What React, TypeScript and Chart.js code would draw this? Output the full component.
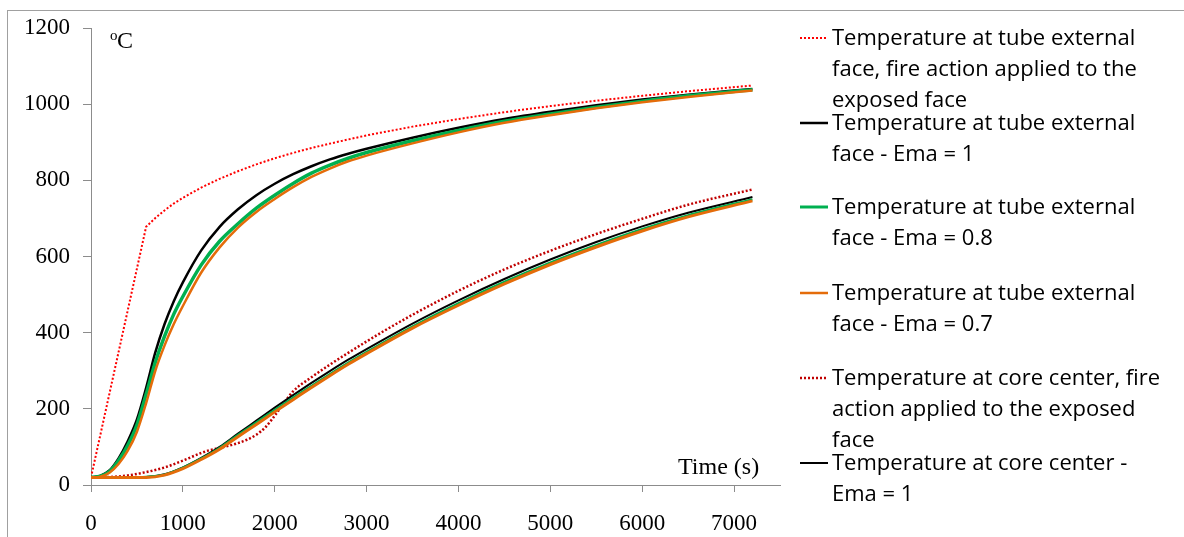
import { useEffect, useRef } from 'react';
import { Chart, registerables } from 'chart.js';

Chart.register(...registerables);

// ---- Data (time in s, temperature in °C) ----
const fireTubeTimes = [0, 600, 700, 800, 900, 1000, 1200, 1400, 1600, 1800, 2000, 2200, 2400, 2700, 3000, 3500, 4000, 4500, 5000, 5500, 6000, 6500, 7200];
const fireTube = [20, 678, 701, 721, 739, 754, 781, 804, 824, 842, 858, 872, 885, 902, 918, 941, 961, 979, 995, 1009, 1022, 1034, 1049];

const tubeTimes = [0, 100, 200, 300, 400, 500, 600, 700, 800, 900, 1000, 1200, 1400, 1600, 1800, 2000, 2200, 2400, 2600, 2800, 3000, 3500, 4000, 4500, 5000, 5500, 6000, 6500, 7200];
const tubeEma1 = [20, 24, 38, 70, 115, 172, 255, 348, 422, 482, 532, 616, 678, 724, 761, 791, 816, 837, 855, 870, 883, 912, 938, 961, 980, 997, 1012, 1025, 1040];
const tubeEma08 = [20, 23, 35, 64, 104, 158, 238, 322, 390, 448, 495, 578, 640, 686, 727, 761, 792, 819, 840, 858, 873, 904, 931, 955, 974, 992, 1008, 1022, 1038];
const tubeEma07 = [20, 22, 32, 55, 90, 140, 215, 300, 366, 422, 470, 558, 624, 676, 717, 751, 782, 809, 831, 850, 865, 897, 926, 951, 971, 989, 1005, 1019, 1036];

const fireCoreTimes = [0, 200, 400, 600, 800, 1000, 1200, 1300, 1400, 1500, 1600, 1700, 1800, 1900, 2000, 2100, 2200, 2400, 2600, 2800, 3000, 3200, 3500, 4000, 4500, 5000, 5500, 6000, 6500, 7200];
const fireCore = [20, 21, 25, 34, 46, 64, 84, 92, 97, 103, 110, 119, 132, 152, 182, 215, 246, 283, 316, 347, 377, 406, 447, 510, 566, 615, 659, 699, 736, 776];

const coreTimes = [0, 200, 400, 600, 800, 1000, 1200, 1400, 1600, 1800, 2000, 2200, 2400, 2600, 2800, 3000, 3500, 4000, 4500, 5000, 5500, 6000, 6500, 7200];
const coreEma1 = [20, 20, 20, 21, 28, 46, 71, 100, 135, 169, 203, 236, 268, 299, 329, 357, 424, 485, 541, 592, 638, 679, 715, 756];
const coreEma08 = [20, 20, 20, 21, 27, 45, 69, 97, 131, 164, 197, 229, 260, 291, 321, 349, 416, 477, 533, 584, 630, 672, 708, 750];
const coreEma07 = [20, 20, 20, 20, 26, 43, 67, 94, 127, 159, 192, 224, 256, 287, 317, 345, 412, 472, 528, 579, 625, 667, 704, 746];

const yTicks = [0, 200, 400, 600, 800, 1000, 1200];
const xTicks = [0, 1000, 2000, 3000, 4000, 5000, 6000, 7000];

const seriesLabels = [
  'Temperature at tube external\nface, fire action applied to the\nexposed face',
  'Temperature at tube external\nface - Ema = 1',
  'Temperature at tube external\nface - Ema = 0.8',
  'Temperature at tube external\nface - Ema = 0.7',
  'Temperature at core center, fire\naction applied to the exposed\nface',
  'Temperature at core center -\nEma = 1',
  'Temperature at core center -\nEma = 0.8',
  'Temperature at core center -\nEma = 0.7',
];

const RED = '#FF0000';
const DARKRED = '#C00000';
const BLACK = '#000000';
const GREEN = '#00B050';
const ORANGE = '#E46C0A';

const styles = [
  { color: RED, width: 2, dash: [2, 2] },
  { color: BLACK, width: 2.5, dash: [] },
  { color: GREEN, width: 3.5, dash: [] },
  { color: ORANGE, width: 2.5, dash: [] },
  { color: DARKRED, width: 2.5, dash: [2, 2] },
  { color: BLACK, width: 2, dash: [] },
  { color: GREEN, width: 2.5, dash: [] },
  { color: ORANGE, width: 3, dash: [] },
];

const legendCenters = [38, 123, 207, 293, 378, 463];

function toPts(xs: number[], ys: number[]) {
  return xs.map((x, i) => ({ x, y: ys[i] }));
}

const titlesPlugin = {
  id: 'axisTitles',
  afterDraw(chart: any) {
    const { ctx, chartArea } = chart;
    ctx.save();
    ctx.fillStyle = '#000';
    ctx.textBaseline = 'alphabetic';
    ctx.textAlign = 'left';
    ctx.font = '15px "Liberation Serif"';
    ctx.fillText('o', chartArea.left + 19, chartArea.top + 12);
    ctx.font = '24px "Liberation Serif"';
    ctx.fillText('C', chartArea.left + 26, chartArea.top + 20);
    ctx.fillText('Time (s)', chartArea.right - 102, chartArea.bottom - 11);
    ctx.restore();
  },
};

function App() {
  const ref = useRef<HTMLCanvasElement | null>(null);

  useEffect(() => {
    if (!ref.current) return;
    const sets = [
      toPts(fireTubeTimes, fireTube),
      toPts(tubeTimes, tubeEma1),
      toPts(tubeTimes, tubeEma08),
      toPts(tubeTimes, tubeEma07),
      toPts(fireCoreTimes, fireCore),
      toPts(coreTimes, coreEma1),
      toPts(coreTimes, coreEma08),
      toPts(coreTimes, coreEma07),
    ];
    const datasets = sets.map((data, i) => ({
      label: seriesLabels[i],
      data,
      borderColor: styles[i].color,
      backgroundColor: styles[i].color,
      borderWidth: styles[i].width,
      borderDash: styles[i].dash,
      borderCapStyle: 'butt' as const,
      pointRadius: 0,
      fill: false,
      tension: i === 0 ? 0 : 0.4,
      cubicInterpolationMode: i === 0 ? ('default' as const) : ('monotone' as const),
      order: sets.length - i,
    }));
    const axisColor = '#8C8C8C';
    const tickFont = { family: '"Liberation Serif"', size: 23 };
    const fmt = (v: any) => String(v);
    const chart = new Chart(ref.current, {
      type: 'line',
      data: { datasets },
      plugins: [titlesPlugin],
      options: {
        animation: false,
        responsive: false,
        layout: { padding: { left: 0, top: 28, right: 404, bottom: 0 } },
        plugins: { legend: { display: false }, tooltip: { enabled: false } },
        scales: {
          x: {
            type: 'linear',
            min: 0,
            max: 7500,
            afterFit: (s: any) => { s.height = 52; },
            afterBuildTicks: (s: any) => { s.ticks = xTicks.map((v) => ({ value: v })); },
            ticks: { stepSize: 1000, color: '#000', font: tickFont, padding: 18, maxRotation: 0, autoSkip: false, callback: fmt },
            grid: { drawOnChartArea: false, drawTicks: true, tickLength: 7, color: axisColor },
            border: { display: true, color: axisColor, width: 1 },
          },
          y: {
            type: 'linear',
            min: 0,
            max: 1200,
            afterFit: (s: any) => { s.width = 91; },
            afterBuildTicks: (s: any) => { s.ticks = yTicks.map((v) => ({ value: v })); },
            ticks: { stepSize: 200, color: '#000', font: tickFont, padding: 13, callback: fmt },
            grid: { drawOnChartArea: false, drawTicks: true, tickLength: 8, color: axisColor },
            border: { display: true, color: axisColor, width: 1 },
          },
        },
      },
    });
    return () => chart.destroy();
  }, []);

  return (
    <div style={{ position: 'absolute', left: 0, top: 0, width: 1184, height: 537, overflow: 'hidden', background: '#fff' }}>
      <div style={{ position: 'absolute', left: 7, top: 10, width: 1200, height: 600, borderTop: '1px solid #A0A0A0', borderLeft: '1px solid #A0A0A0' }} />
      <canvas ref={ref} width={1184} height={537} style={{ position: 'absolute', left: 0, top: 0, width: 1184, height: 537 }} />
      {legendCenters.map((c, i) => (
        <div key={i} style={{ position: 'absolute', left: 800, top: c - 16, width: 380 }}>
          <svg width={30} height={8} style={{ position: 'absolute', left: 0, top: 12 }}>
            <line x1={0} y1={4} x2={28} y2={4} stroke={styles[i].color} strokeWidth={Math.min(styles[i].width, 3)} strokeDasharray={styles[i].dash.length ? '2 2' : undefined} />
          </svg>
          <div style={{ position: 'absolute', left: 32, top: -1, whiteSpace: 'pre', fontFamily: '"Open Sans", sans-serif', fontSize: 22, lineHeight: '31px', color: '#000' }}>
            {seriesLabels[i]}
          </div>
        </div>
      ))}
    </div>
  );
}

export default App;
